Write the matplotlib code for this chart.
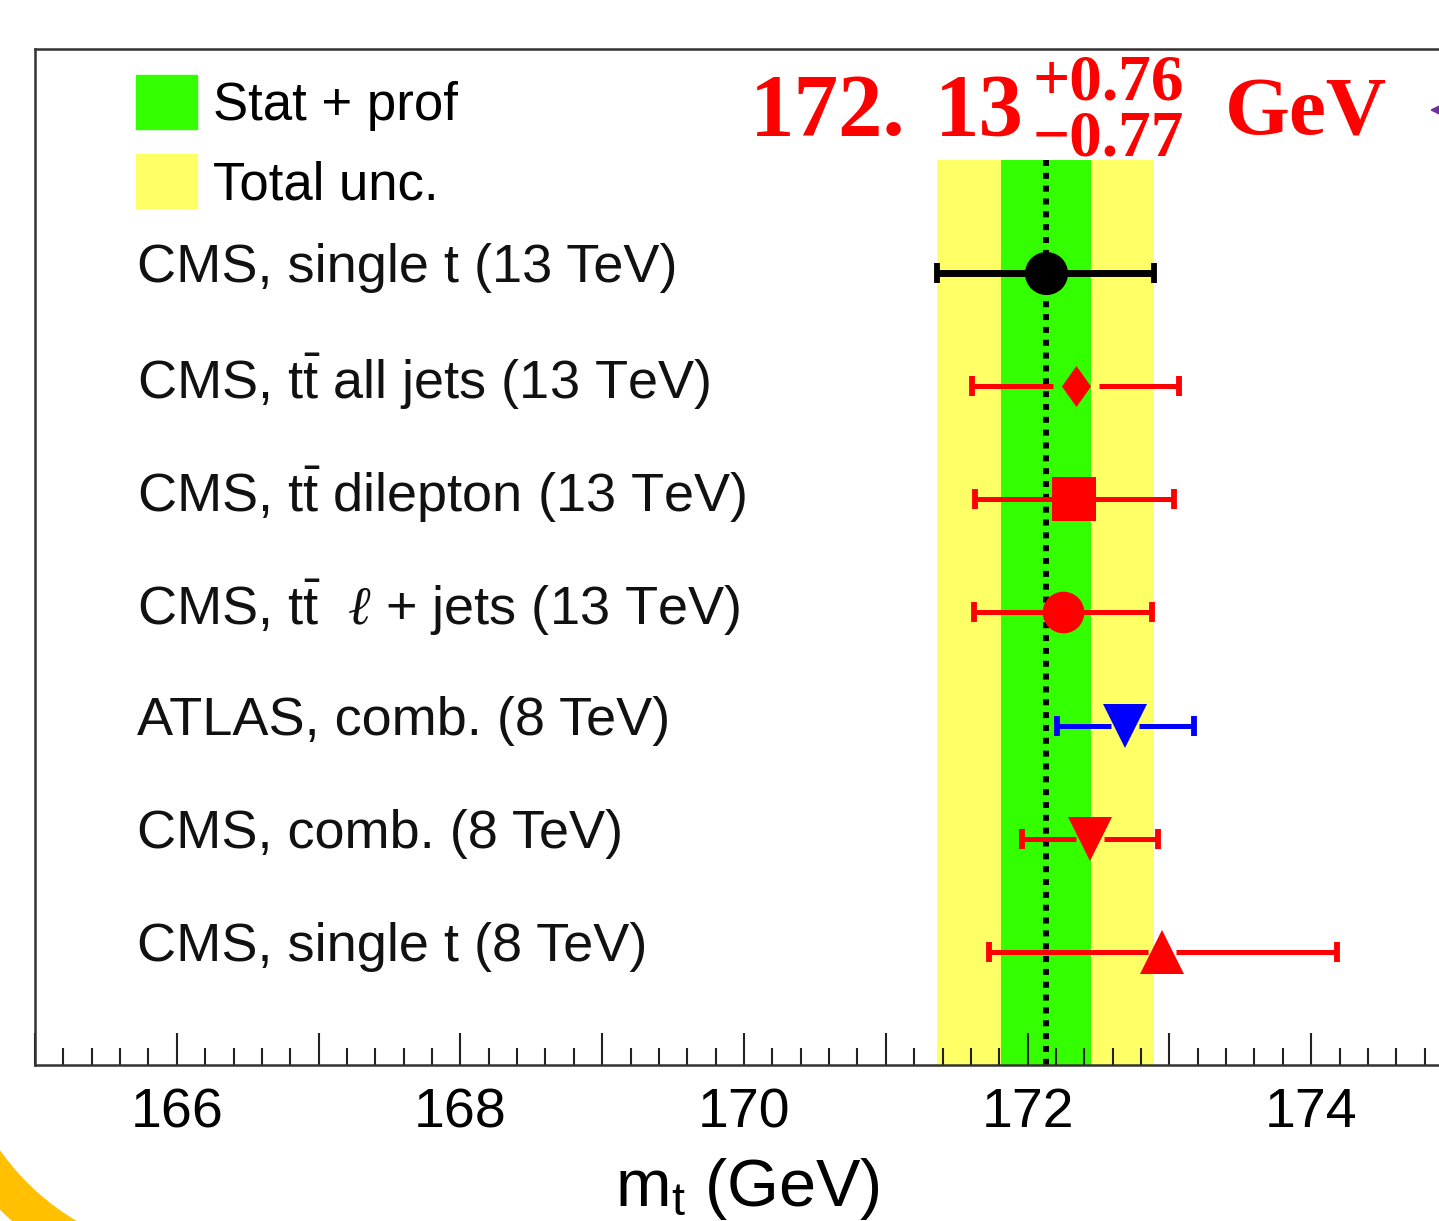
import numpy as np
import matplotlib
matplotlib.use('Agg')
import matplotlib.pyplot as plt
from matplotlib.ticker import MultipleLocator, FuncFormatter
from matplotlib.patches import Patch, Wedge, FancyArrowPatch

plt.rcParams['font.family'] = ['Liberation Sans', 'DejaVu Sans']
plt.rcParams['mathtext.fontset'] = 'custom'
plt.rcParams['mathtext.rm'] = 'Liberation Sans'
plt.rcParams['mathtext.it'] = 'Liberation Serif:italic'

# top mass measurements
labels = [
    'CMS, single t (13 TeV)',
    r'CMS, $\mathrm{t\bar{t}}$ all jets (13 TeV)',
    r'CMS, $\mathrm{t\bar{t}}$ dilepton (13 TeV)',
    r'CMS, $\mathrm{t\bar{t}}$  $\ell$ + jets (13 TeV)',
    'ATLAS, comb. (8 TeV)',
    'CMS, comb. (8 TeV)',
    'CMS, single t (8 TeV)',
]
mass = [172.13, 172.34, 172.33, 172.25, 172.69, 172.44, 172.95]
err_lo = [0.77, 0.73, 0.70, 0.63, 0.48, 0.48, 1.22]
err_hi = [0.76, 0.73, 0.70, 0.63, 0.48, 0.48, 1.23]
colors = ['black', 'red', 'red', 'red', 'blue', 'red', 'red']

# ROOT-like diamond, a bit wider than matplotlib's thin one
diamond = [(0, 1), (0.71, 0), (0, -1), (-0.71, 0), (0, 1)]
markers = ['o', diamond, 's', 'o', 'v', 'v', '^']
msizes = [31, 29.5, 32, 30, 32, 31, 31]
gaps_px = [14, 23, 14, 14, 14, 14, 14]

# combined result
m_comb = 172.13
tot_up, tot_dn = 0.76, 0.77
stat_prof = 0.32

fig = plt.figure(figsize=(14.39, 12.21), dpi=100)
W, H = 1439, 1221
x0, x1 = 165, 175.1
ax_left, ax_bot, ax_top = 35, 1065, 49
px_per_gev = 141.8
ax_w = (x1 - x0) * px_per_gev
ax = fig.add_axes([ax_left / W, (H - ax_bot) / H, ax_w / W, (ax_bot - ax_top) / H])
ax.set_xlim(x0, x1)
ax.set_ylim(7.0, -1.98)

rows = np.arange(len(labels))
label_x = (137 - ax_left) / ax_w

# uncertainty bands
ax.fill_betweenx([-1.0, 7.0], m_comb - tot_dn, m_comb + tot_up, color='#ffff66', lw=0, zorder=1)
ax.fill_betweenx([-1.0, 7.0], m_comb - stat_prof, m_comb + stat_prof, color='#33ff00', lw=0, zorder=1.1)
ax.plot([m_comb, m_comb], [-1.0, 7.0], color='black', lw=4.3, ls=(0, (1, 1.15)),
        dash_capstyle='butt', zorder=2)

for i in rows:
    m, lo, hi, c = mass[i], err_lo[i], err_hi[i], colors[i]
    lw = 5 if c == 'black' else 3.6
    g = gaps_px[i] / px_per_gev
    ax.plot([m - lo, m - g], [i, i], color=c, lw=lw, solid_capstyle='butt', zorder=3)
    ax.plot([m + g, m + hi], [i, i], color=c, lw=lw, solid_capstyle='butt', zorder=3)
    ax.plot([m - lo, m + hi], [i, i], ls='none', marker='|', ms=15, mew=4.2, color=c, zorder=3)
    ax.plot(m, i, ls='none', marker=markers[i], ms=msizes[i], color=c, mec=c, mew=0, zorder=4)
    ax.text(label_x, i - 0.04, labels[i], transform=ax.get_yaxis_transform(), fontsize=39,
            color='#111111', va='center', ha='left')

handles = [Patch(color='#33ff00', label='Stat + prof'), Patch(color='#ffff66', label='Total unc.')]
ax.legend(handles=handles, loc='upper left', bbox_to_anchor=((136 - ax_left) / ax_w, 0.9744),
          frameon=False, fontsize=38, handlelength=1.16, handleheight=1.19, handletextpad=0.3,
          labelspacing=0.45, borderpad=0, borderaxespad=0)

# axes styling
ax.xaxis.set_major_locator(MultipleLocator(1))
ax.xaxis.set_minor_locator(MultipleLocator(0.2))
ax.xaxis.set_major_formatter(FuncFormatter(lambda v, p: f'{v:.0f}' if round(v) % 2 == 0 else ''))
ax.tick_params(axis='x', which='both', direction='in', top=False, bottom=True,
               color='#222222', width=1.5, labelsize=40, pad=16)
ax.tick_params(axis='x', which='major', length=23)
ax.tick_params(axis='x', which='minor', length=12)
ax.tick_params(axis='y', left=False, labelleft=False)
for s in ax.spines.values():
    s.set_color('#333333')
    s.set_linewidth(1.8)

fig.text(747 / W, 1 - 1206 / H, r'm$_{\mathrm{t}}$ (GeV)', fontsize=48, ha='center', va='baseline')

# combined value in the header
tkw = dict(family='Liberation Serif', weight='bold', color='red', va='baseline', ha='left')
fig.text(750 / W, 1 - 135 / H, '172.', fontsize=64, **tkw)
fig.text(935 / W, 1 - 135 / H, '13', fontsize=64, **tkw)
fig.text(1033 / W, 1 - 100 / H, f'+{tot_up:.2f}', fontsize=47, **tkw)
fig.text(1033 / W, 1 - 155 / H, f'\u2212{tot_dn:.2f}', fontsize=47, **tkw)
fig.text(1225 / W, 1 - 135 / H, 'GeV', fontsize=60, **tkw)

arrow = FancyArrowPatch((14.7, 11.11), (14.27, 11.11), transform=fig.dpi_scale_trans,
                        arrowstyle='-|>', mutation_scale=16, color='#7030a0', lw=1.5)
fig.add_artist(arrow)

ring = Wedge((2.037, 2.145), 2.87, 180, 270, width=0.37, transform=fig.dpi_scale_trans,
             color='#ffc000')
fig.add_artist(ring)

fig.savefig('out.png', dpi=100)
